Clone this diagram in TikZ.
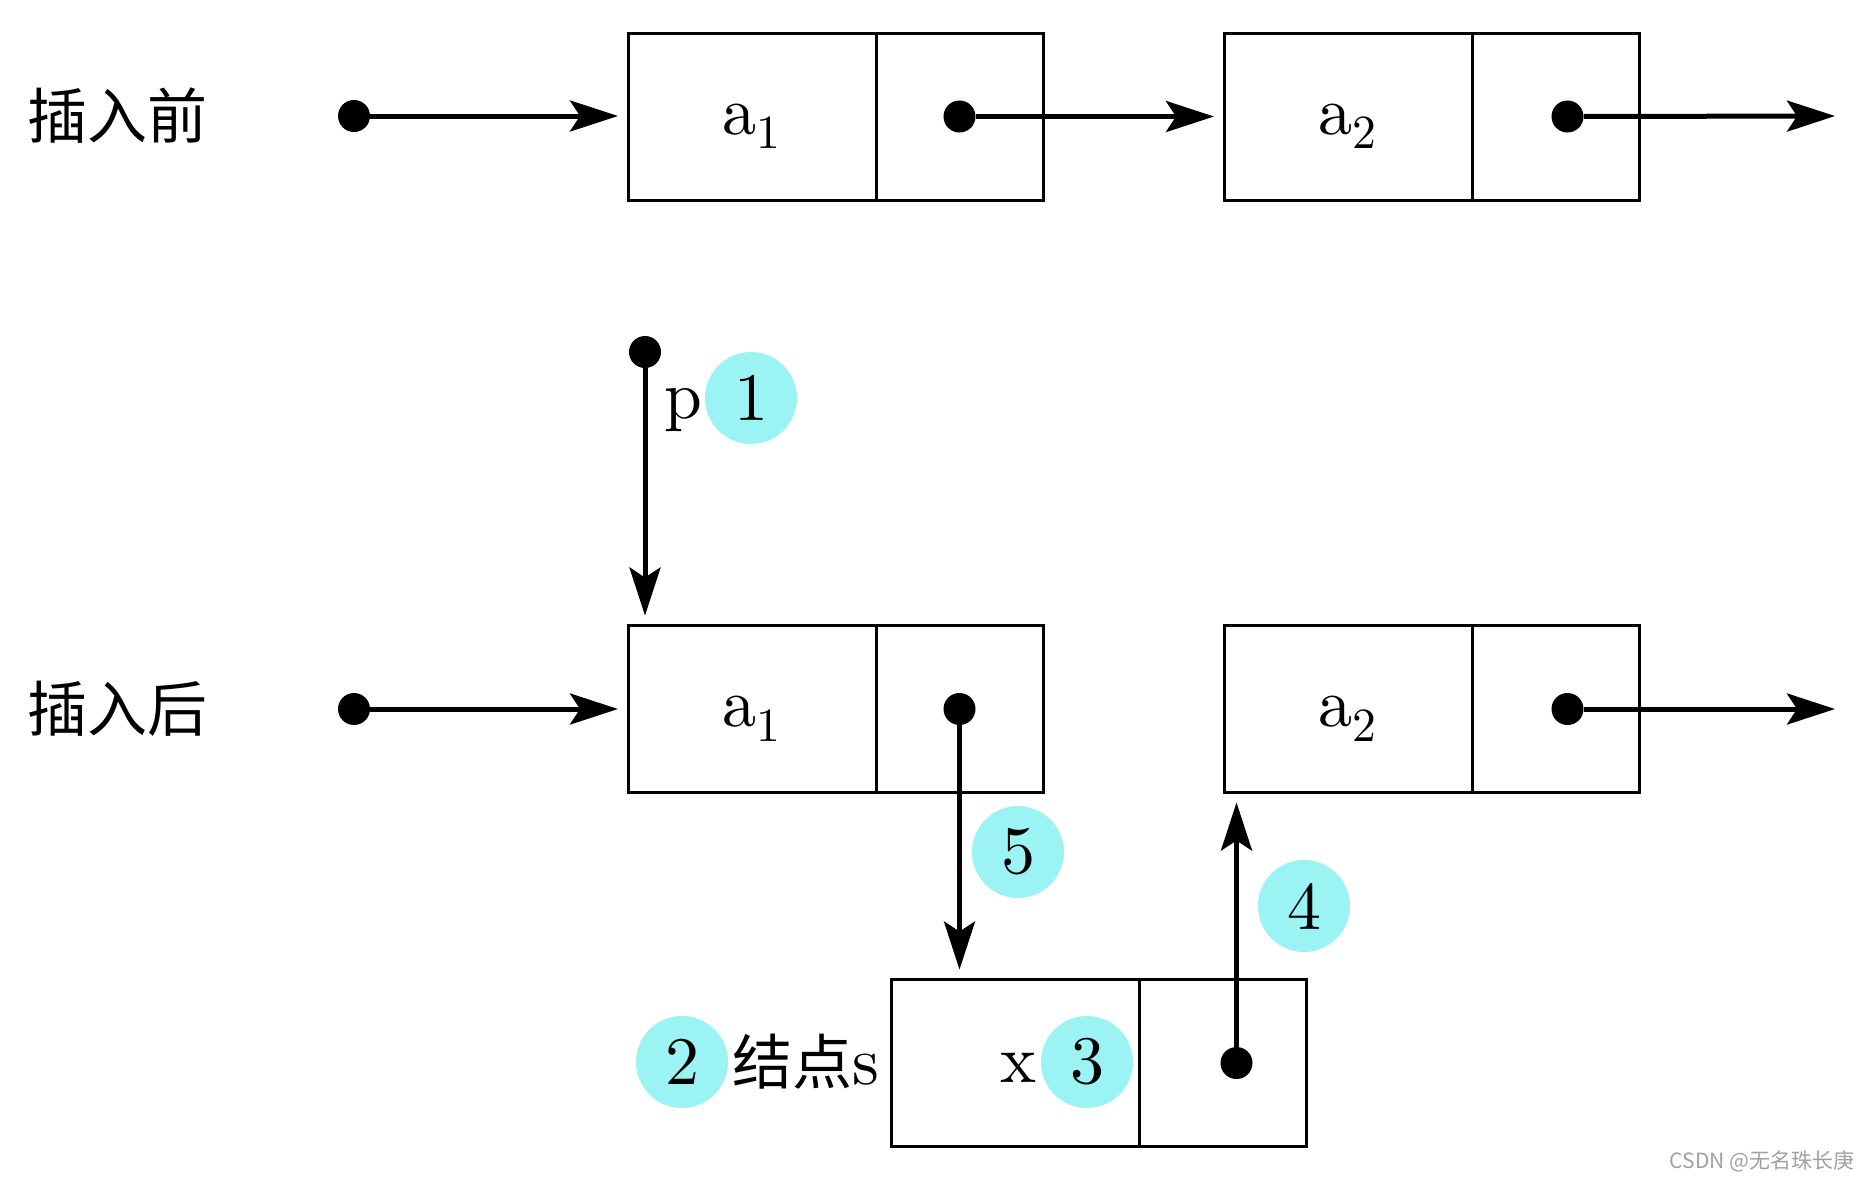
\documentclass[tikz,border=0pt]{standalone}
\usepackage{fontspec}
\setmainfont{lmroman10-regular}[Extension=.otf]
\newfontfamily\cjk{Noto Sans CJK SC}
\usetikzlibrary{positioning,arrows.meta,calc}
\definecolor{markcyan}{HTML}{9CF3F3}
\definecolor{wmgray}{HTML}{A0A0A0}
\newcommand\elem[1]{a\textsubscript{#1}}

\begin{document}
\begin{tikzpicture}[x=0.5pt,y=-0.5pt,
    latin/.style={font=\rmfamily\fontsize{34}{40}\selectfont},
    han/.style={font=\cjk\fontsize{30}{36}\selectfont},
    datacell/.style={draw, line width=1.5pt, outer sep=0pt, inner sep=0pt,
      minimum width=124pt, minimum height=83.5pt, text height=20pt, text depth=2.5pt, latin},
    ptrcell/.style={draw, line width=1.5pt, outer sep=0pt, inner sep=0pt,
      minimum width=83.5pt, minimum height=83.5pt, right=0pt of #1},
    dot/.style={circle, fill, inner sep=0pt, minimum size=16pt},
    ptr/.style={line width=2.5pt, shorten >=5pt,
      -{Stealth[length=24pt,width=15.5pt,inset=5pt]}},
    num/.style={circle, fill=markcyan, inner sep=0pt, minimum size=46pt, latin}]
  \useasboundingbox (0,0) rectangle (1863,1180);
  % before
  \node[han] (before) at (117,116) {插入前};
  \node[dot] (head1) at (354,116) {};
  \node[datacell] (a1) at (752,116.5) {\elem{1}};
  \node[ptrcell=a1] (n1) {};
  \node[dot] (d1) at (n1.center) {};
  \node[datacell] (a2) at (1348,116.5) {\elem{2}};
  \node[ptrcell=a2] (n2) {};
  \node[dot] (d2) at ($(n2.center)+(12,0)$) {};
  \coordinate (end1) at (1835,116);
  \draw[ptr] (head1) -- (a1.west |- head1);
  \draw[ptr] (d1) -- (a2.west |- d1);
  \draw[ptr, shorten >=0pt] (d2) -- (end1);
  % after
  \node[han] (after) at (117,709) {插入后};
  \node[dot] (head2) at (354,709) {};
  \node[datacell] (b1) at (752,709) {\elem{1}};
  \node[ptrcell=b1] (m1) {};
  \node[dot] (e1) at (m1.center) {};
  \node[datacell] (b2) at (1348,709) {\elem{2}};
  \node[ptrcell=b2] (m2) {};
  \node[dot] (e2) at ($(m2.center)+(12,0)$) {};
  \coordinate (end2) at (1835,709);
  \draw[ptr] (head2) -- (b1.west |- head2);
  \draw[ptr, shorten >=0pt] (e2) -- (end2);
  % pointer p
  \node[dot] (pdot) at (645,352) {};
  \node[latin] (plabel) at (683,410) {p};
  \draw[ptr] (pdot) -- (pdot |- b1.north);
  % new node s
  \node[datacell] (s) at (1015,1063) {};
  \node[ptrcell=s] (sn) {};
  \node[dot] (sd) at ($(sn.center)+(14,0)$) {};
  \node[latin] (xval) at (1018,1068) {x};
  \node[han] (slabel) at (806,1062) {结点{\rmfamily\fontsize{34}{40}\selectfont s}};
  \draw[ptr] (e1) -- (e1 |- s.north);
  \draw[ptr] (sd) -- (sd |- b2.south);
  % steps
  \node[num] (st1) at (751,398) {1};
  \node[num] (st2) at (682,1062) {2};
  \node[num] (st3) at (1087,1062) {3};
  \node[num] (st4) at (1304,906) {4};
  \node[num] (st5) at (1018,852) {5};
  \node[font=\cjk\fontsize{10.5}{12}\selectfont, text=wmgray] (mark) at (1762,1161) {CSDN @无名珠长庚};
\end{tikzpicture}
\end{document}
